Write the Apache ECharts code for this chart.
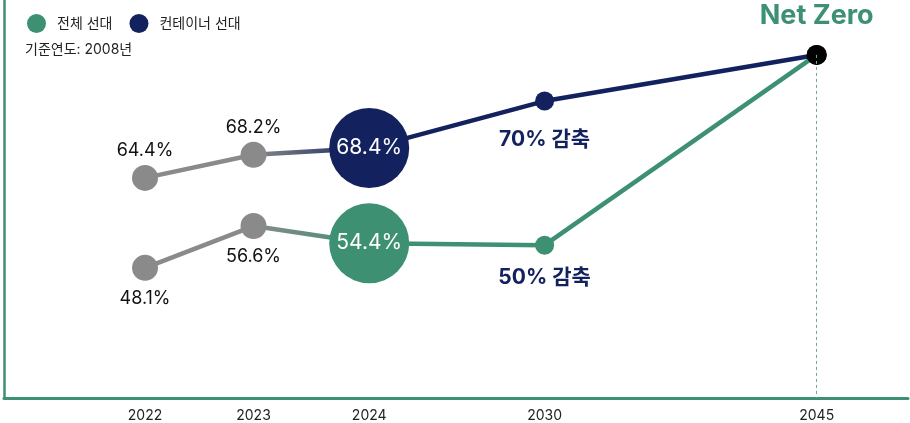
<!DOCTYPE html>
<html>
<head>
<meta charset="utf-8">
<script src="https://cdn.jsdelivr.net/npm/echarts@6/dist/echarts.min.js"></script>
<style>
  html, body { margin: 0; padding: 0; background: #fff; }
  #chart { width: 910px; height: 423px; }
</style>
</head>
<body>
<div id="chart"></div>
<script>
const FONT = 'Inter, "Noto Sans CJK KR", sans-serif';
const GREEN = "#3e9073";
const NAVY = "#13225e";
const GRAY = "#8a8a8a";

// x slots are spread unevenly in the original, so the years sit on a value axis
const years = ["2022", "2023", "2024", "2030", "2045"];
const xSlots = [15.6, 27.6, 40.4, 59.8, 89.9];
// vertical levels (schematic)
const fleetLevel = [32.7, 43.2, 38.9, 38.4, 86.2];
const containerLevel = [55.3, 61.1, 62.8, 74.6, 86.2];
const fleetLabels = ["48.1%", "56.6%", "54.4%", "50% 감축", "Net Zero"];
const containerLabels = ["64.4%", "68.2%", "68.4%", "70% 감축", ""];

function pts(levels, from, to) {
  const out = [];
  for (let i = from; i <= to; i++) out.push([xSlots[i], levels[i]]);
  return out;
}

function buildSeries(name, levels, labels, color, opts) {
  const past = {
    name: name + "_past",
    type: "line",
    z: 3,
    symbol: "circle",
    symbolSize: 26,
    lineStyle: { color: GRAY, width: 4.5 },
    itemStyle: { color: GRAY },
    label: {
      show: true,
      position: opts.pastPos,
      distance: opts.pastDist,
      fontFamily: FONT,
      fontSize: 18,
      color: "#111",
      formatter: (p) => labels[p.dataIndex],
    },
    data: pts(levels, 0, 1),
  };
  const bridge = {
    name: name + "_bridge",
    type: "line",
    z: 1,
    showSymbol: false,
    lineStyle: {
      width: 4.5,
      color: new echarts.graphic.LinearGradient(0, 0, 1, 0, [
        { offset: 0, color: GRAY },
        { offset: 1, color: color },
      ]),
    },
    data: pts(levels, 1, 2),
  };
  const futureData = pts(levels, 2, 4).map((v, i) => {
    const item = { value: v };
    if (i === 0) {
      item.symbolSize = 80;
      item.label = {
        show: true,
        position: "inside",
        color: "#fff",
        fontSize: 21,
        fontFamily: FONT,
        formatter: labels[2],
      };
    } else if (i === 1) {
      item.symbolSize = 19;
      item.label = {
        show: true,
        position: "bottom",
        distance: opts.targetDist,
        color: NAVY,
        fontSize: 21,
        fontWeight: "bold",
        fontFamily: FONT,
        formatter: labels[3],
      };
    } else {
      item.symbolSize = 20;
      item.itemStyle = { color: "#000" };
      item.label = {
        show: labels[4] !== "",
        position: "top",
        distance: 16,
        color: GREEN,
        fontSize: 27,
        fontWeight: "bold",
        fontFamily: FONT,
        formatter: labels[4],
      };
    }
    return item;
  });
  const future = {
    name: name,
    type: "line",
    z: 2,
    symbol: "circle",
    lineStyle: { color: color, width: 4.5 },
    itemStyle: { color: color },
    data: futureData,
  };
  if (opts.markLine) {
    future.markLine = {
      silent: true,
      symbol: "none",
      lineStyle: { color: "#6aab92", type: [3, 3], width: 1 },
      label: { show: false },
      data: [[{ coord: [xSlots[4], levels[4]] }, { coord: [xSlots[4], 0] }]],
    };
  }
  return [bridge, past, future];
}

const chart = echarts.init(document.getElementById("chart"), null, { renderer: "canvas" });
chart.setOption({
  animation: false,
  textStyle: { fontFamily: FONT },
  title: {
    text: "기준연도: 2008년",
    left: 20,
    top: 38,
    textStyle: { fontFamily: FONT, fontSize: 14, fontWeight: "normal", color: "#222" },
  },
  legend: {
    data: ["전체 선대", "컨테이너 선대"],
    icon: "circle",
    left: 22,
    top: 9,
    itemWidth: 19,
    itemHeight: 19,
    itemGap: 17,
    textStyle: { fontFamily: FONT, fontSize: 14, color: "#222", padding: [0, 0, 0, 6] },
  },
  grid: { left: 4, right: 2, top: 0, bottom: 25, containLabel: false },
  xAxis: {
    type: "value",
    min: 0,
    max: 100,
    splitLine: { show: false },
    axisTick: { show: false },
    axisLine: { lineStyle: { color: GREEN, width: 3 } },
    axisLabel: {
      customValues: xSlots,
      margin: 11,
      fontFamily: FONT,
      fontSize: 14,
      color: "#222",
      formatter: (v) => years[xSlots.indexOf(v)] || "",
    },
  },
  yAxis: {
    type: "value",
    min: 0,
    max: 100,
    splitLine: { show: false },
    axisTick: { show: false },
    axisLabel: { show: false },
    axisLine: { show: true, lineStyle: { color: GREEN, width: 2.5 } },
  },
  series: [
    ...buildSeries("전체 선대", fleetLevel, fleetLabels, GREEN, {
      pastPos: "bottom", pastDist: 9, targetDist: 13, markLine: true,
    }),
    ...buildSeries("컨테이너 선대", containerLevel, containerLabels, NAVY, {
      pastPos: "top", pastDist: 5, targetDist: 19, markLine: false,
    }),
  ],
});
</script>
</body>
</html>
